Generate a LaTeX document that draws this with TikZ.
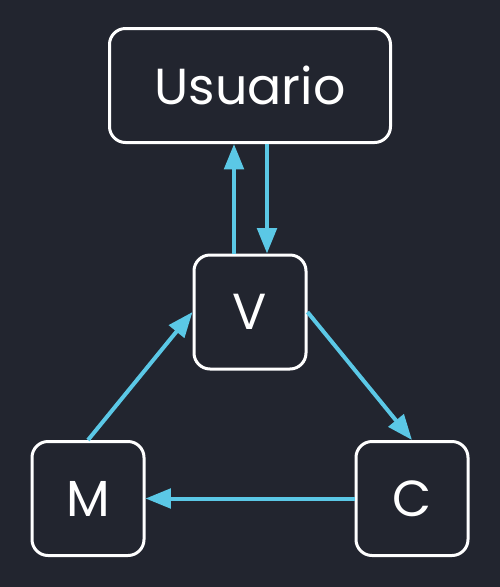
\documentclass[tikz,border=0pt]{standalone}
\usepackage{fontspec}
\setmainfont{Poppins}
\usetikzlibrary{arrows.meta}
\definecolor{bgc}{HTML}{22252F}
\definecolor{arrc}{HTML}{5BC8E6}
\tikzset{
  box/.style={draw=white, line width=2.25pt, rounded corners=12pt, text=white,
    font=\fontsize{38}{44}\selectfont, inner sep=0pt},
  small/.style={box, minimum width=84pt, minimum height=85.5pt},
  arr/.style={draw=arrc, line width=3pt, -{Triangle[length=19pt,width=14.5pt]}},
}
\begin{document}
\begin{tikzpicture}[x=0.75pt,y=-0.75pt]
\fill[bgc] (0,0) rectangle (500,587);
\useasboundingbox (0,0) rectangle (500,587);
\node[box, minimum width=210.75pt, minimum height=85.5pt] (U) at (250,85.5) {Usuario};
\node[small] (V) at (250,312) {V};
\node[small] (M) at (88,498.5) {M};
\node[small] (C) at (412,498.5) {C};
\draw[arr] ([xshift=12.75pt]U.south) -- ([xshift=12.75pt]V.north);
\draw[arr] ([xshift=-12pt]V.north) -- ([xshift=-12pt]U.south);
\draw[arr] (V.east) -- (C.north);
\draw[arr] (M.north) -- (V.west);
\draw[arr] (C.west) -- (M.east);
\end{tikzpicture}
\end{document}
